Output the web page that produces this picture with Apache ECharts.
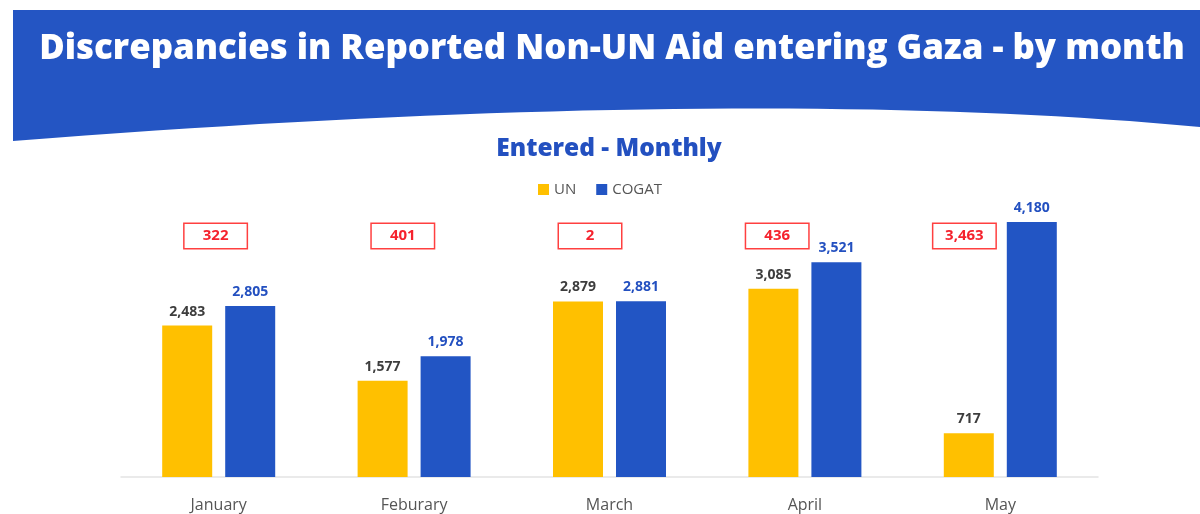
<!DOCTYPE html>
<html>
<head>
<meta charset="utf-8">
<script src="https://cdn.jsdelivr.net/npm/echarts@6/dist/echarts.min.js"></script>
<style>
  html, body { margin: 0; padding: 0; background: #fff; }
  #chart { width: 1200px; height: 514px; }
</style>
</head>
<body>
<div id="chart"></div>
<script>
// 数据
var months = ['January', 'Feburary', 'March', 'April', 'May'];
var unValues = [2483, 1577, 2879, 3085, 717];
var cogatValues = [2805, 1978, 2881, 3521, 4180];
var gapValues = [322, 401, 2, 436, 3463];

function fmt(v) {
    return v.toLocaleString('en-US');
}

// 顶部蓝色横幅（下边缘为弧线）
function bannerPoints() {
    var pts = [[13, 10], [1200, 10]];
    var p0 = [1200, 127], c = [740, 84], p1 = [13, 141];
    for (var i = 0; i <= 40; i++) {
        var t = i / 40, u = 1 - t;
        pts.push([u * u * p0[0] + 2 * u * t * c[0] + t * t * p1[0],
                  u * u * p0[1] + 2 * u * t * c[1] + t * t * p1[1]]);
    }
    return pts;
}

function initEcharts() {
    var myChart = echarts.init(document.getElementById('chart'));
    var font = 'Open Sans';

    var option = {
        backgroundColor: '#fff',
        animation: false,
        graphic: [
            {
                type: 'polygon',
                shape: { points: bannerPoints() },
                style: { fill: '#2455c3' },
                z: 0
            },
            {
                type: 'text',
                x: 612, y: 49,
                style: {
                    text: 'Discrepancies in Reported Non-UN Aid entering Gaza - by month',
                    fill: '#fff',
                    font: '800 34.8px "Open Sans"',
                    align: 'center',
                    verticalAlign: 'middle'
                },
                z: 1
            },
            {
                type: 'text',
                x: 609, y: 149,
                style: {
                    text: 'Entered - Monthly',
                    fill: '#2350c0',
                    font: '800 24.5px "Open Sans"',
                    align: 'center',
                    verticalAlign: 'middle'
                }
            }
        ],
        legend: {
            top: 177,
            left: 'center',
            itemWidth: 11,
            itemHeight: 11,
            itemGap: 20,
            icon: 'rect',
            data: ['UN', 'COGAT'],
            textStyle: { color: '#555', fontSize: 15, fontFamily: font }
        },
        grid: [
            { left: 121, right: 102, top: 172, bottom: 37 },
            { left: 122, right: 142, top: 226, height: 20 }
        ],
        xAxis: [
            {
                type: 'category',
                gridIndex: 0,
                data: months,
                axisLine: { lineStyle: { color: '#e3e3e3', width: 1.5 } },
                axisTick: { show: false },
                axisLabel: { color: '#555', fontSize: 16, fontFamily: font, margin: 20 }
            },
            {
                type: 'category',
                gridIndex: 1,
                data: months,
                show: false
            }
        ],
        yAxis: [
            { type: 'value', gridIndex: 0, min: 0, max: 5000, show: false },
            { type: 'value', gridIndex: 1, min: 0, max: 1, show: false }
        ],
        series: [
            {
                name: 'UN',
                type: 'bar',
                data: unValues,
                barWidth: 50,
                barGap: '26%',
                itemStyle: { color: '#ffc000' },
                label: {
                    show: true,
                    position: 'top',
                    distance: 7,
                    color: '#3d3d3d',
                    fontWeight: 'bold',
                    fontSize: 14,
                    fontFamily: font,
                    formatter: function (p) { return fmt(p.value); }
                }
            },
            {
                name: 'COGAT',
                type: 'bar',
                data: cogatValues,
                barWidth: 50,
                itemStyle: { color: '#2255c4' },
                label: {
                    show: true,
                    position: 'top',
                    distance: 7,
                    color: '#2350c0',
                    fontWeight: 'bold',
                    fontSize: 14,
                    fontFamily: font,
                    formatter: function (p) { return fmt(p.value); }
                }
            },
            {
                name: 'gap',
                type: 'scatter',
                xAxisIndex: 1,
                yAxisIndex: 1,
                symbolSize: 1,
                itemStyle: { color: '#fff', opacity: 1 },
                data: gapValues.map(function (v, i) { return [i, 0.5, v]; }),
                label: {
                    show: true,
                    position: 'inside',
                    formatter: function (p) { return fmt(p.value[2]); },
                    color: '#f5222d',
                    fontWeight: 'bold',
                    fontSize: 15,
                    fontFamily: font,
                    backgroundColor: '#fff',
                    borderColor: '#ff4040',
                    borderWidth: 1.5,
                    width: 62,
                    height: 24,
                    align: 'center',
                    verticalAlign: 'middle',
                    lineHeight: 24
                },
                silent: true
            }
        ]
    };

    myChart.setOption(option);
}

initEcharts();
</script>
</body>
</html>
